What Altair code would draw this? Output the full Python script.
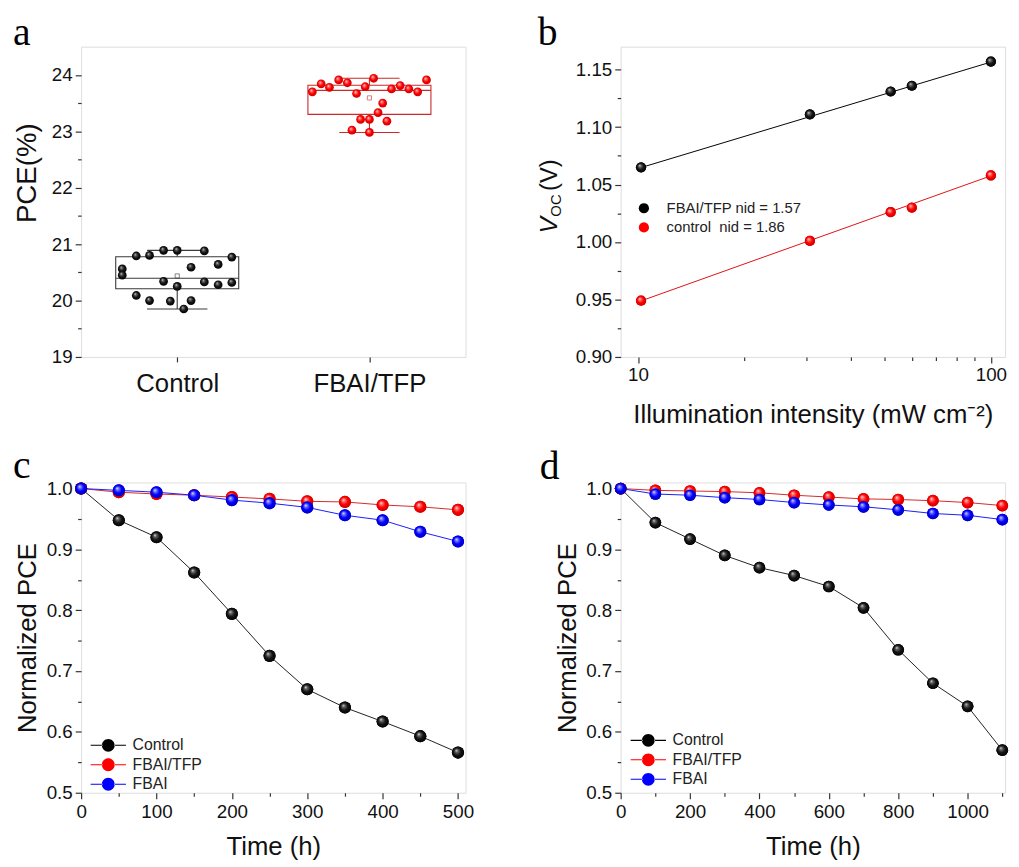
import altair as alt
import pandas as pd

FONT = "Liberation Sans"
SERIF = "Liberation Serif"

# ---------------- data ----------------
# panel a
a_cats = ["Control", "FBAI/TFP"]
a_control_pce = [20.79, 20.80, 20.89, 20.89, 20.88, 20.77, 20.56, 20.45, 20.59, 20.64,
                 20.34, 20.25, 20.33, 20.28, 20.32, 20.09, 20.00, 19.99, 20.00, 19.85]
a_control_jit = [-0.213, -0.144, -0.071, 0.0, 0.141, 0.284, -0.286, -0.286, 0.072, 0.213,
                 -0.071, 0.0, 0.141, 0.213, 0.284, -0.213, -0.144, -0.036, 0.072, 0.034]
a_fbai_pce = [23.70, 23.84, 23.78, 23.91, 23.86, 23.67, 23.79, 23.94, 23.75, 23.81,
              23.75, 23.70, 23.91, 23.50, 23.33, 23.21, 23.21, 23.18, 23.02, 22.98]
a_fbai_jit = [-0.297, -0.251, -0.208, -0.160, -0.115, -0.067, -0.022, 0.022, 0.115, 0.160,
              0.205, 0.251, 0.297, 0.069, 0.045, -0.046, 0.0, 0.091, -0.091, 0.0]

# panel b
b_series = ["FBAI/TFP nid = 1.57", "control\u00a0 nid = 1.86"]
b_intensity = [10.2, 30.7, 52.0, 59.7, 100.0]
b_voc_fbai = [1.065, 1.111, 1.131, 1.136, 1.157]
b_voc_control = [0.949, 1.001, 1.026, 1.030, 1.058]
b_fit_x = [10.2, 100.0]
b_fit_fbai = [1.0648, 1.1566]
b_fit_control = [0.9488, 1.0576]

# panel c
series_names = ["Control", "FBAI/TFP", "FBAI"]
c_time = [0, 50, 100, 150, 200, 250, 300, 350, 400, 450, 500]
c_control = [1.0, 0.948, 0.920, 0.862, 0.794, 0.725, 0.670, 0.640, 0.617, 0.593, 0.566]
c_fbai_tfp = [1.0, 0.994, 0.991, 0.989, 0.986, 0.983, 0.979, 0.978, 0.973, 0.970, 0.965]
c_fbai = [1.0, 0.997, 0.994, 0.989, 0.981, 0.976, 0.969, 0.956, 0.948, 0.929, 0.913]

# panel d
d_time = [0, 100, 200, 300, 400, 500, 600, 700, 800, 900, 1000, 1100]
d_control = [1.0, 0.944, 0.917, 0.890, 0.870, 0.857, 0.839, 0.804, 0.735, 0.680, 0.642, 0.570]
d_fbai_tfp = [1.0, 0.997, 0.996, 0.995, 0.993, 0.989, 0.986, 0.983, 0.982, 0.980, 0.977, 0.972]
d_fbai = [1.0, 0.991, 0.989, 0.985, 0.982, 0.977, 0.973, 0.970, 0.965, 0.959, 0.956, 0.949]

# ---------------- styling helpers ----------------
W, H = 389, 314
AXC = "#333333"
TXT = "#111111"


def ball(hi, mid, main, dark):
    return alt.RadialGradient(
        gradient="radial", x1=0.36, y1=0.32, r1=0.0, x2=0.5, y2=0.5, r2=0.55,
        stops=[alt.GradientStop(color=hi, offset=0.0),
               alt.GradientStop(color=mid, offset=0.2),
               alt.GradientStop(color=main, offset=0.55),
               alt.GradientStop(color=dark, offset=1.0)])


BALL = {
    "black": ball("#f4f4f4", "#6a6a6a", "#151515", "#000000"),
    "red": ball("#fff0f0", "#ff7a7a", "#ff0000", "#c40000"),
    "blue": ball("#f0f0ff", "#7a7aff", "#0000ff", "#0000b4"),
}
SOLID = {"black": "#000000", "red": "#ff0000", "blue": "#0000ff"}
LINE = {"black": "#222222", "red": "#d42a2a", "blue": "#1a1aff"}


def letter(ch, dx, dy):
    return alt.Chart(pd.DataFrame({"t": [ch]})).mark_text(
        font=SERIF, fontSize=40, align="left", baseline="alphabetic", color="#000"
    ).encode(text="t:N", x=alt.value(dx), y=alt.value(dy))


def text_piece(txt, size, dx, dy, align="left", style="normal"):
    return alt.Chart(pd.DataFrame({"t": [txt]})).mark_text(
        font=FONT, fontSize=size, fontStyle=style, angle=270, align=align,
        baseline="alphabetic", color=TXT).encode(text="t:N", x=alt.value(dx), y=alt.value(dy))


def major_axis(values, fmt=None, title=None, **kw):
    args = dict(values=values, tickSize=6, tickWidth=1.2, tickColor=AXC, labelPadding=3,
                domain=False, grid=False, labelFont=FONT, labelFontSize=19, labelColor=TXT,
                labelFlush=False, labelOverlap=False,
                titleFont=FONT, titleFontSize=26, titleFontWeight="normal", titleColor=TXT)
    if fmt is not None:
        args["format"] = fmt
    args["title"] = title
    args.update(kw)
    return alt.Axis(**args)


def minor_axis(values, orient):
    return alt.Axis(values=values, tickSize=3.5, tickWidth=1.2, tickColor=AXC, labels=False,
                    domain=False, grid=False, title=None, orient=orient)


LEG_PATH = ("M-1,0A1,1,0,1,0,1,0A1,1,0,1,0,-1,0Z"
            "M-2.75,-0.08H-0.9V0.08H-2.75Z"
            "M0.9,-0.08H2.75V0.08H0.9Z")

# ---------------- panel a ----------------
a_df = pd.DataFrame({
    "cat": [a_cats[0]] * len(a_control_pce) + [a_cats[1]] * len(a_fbai_pce),
    "idx": [0] * len(a_control_pce) + [1] * len(a_fbai_pce),
    "pce": a_control_pce + a_fbai_pce,
    "jit": a_control_jit + a_fbai_jit,
})
ax_scale = alt.Scale(domain=[0, 2], nice=False, zero=False)
ay_scale = alt.Scale(domain=[19, 24.5], nice=False, zero=False)
a_box_colors = alt.Scale(domain=a_cats, range=["#3a3a3a", "#cc2a2a"])
a_base = alt.Chart(a_df).transform_calculate(pos="datum.idx + 0.5", xpos="datum.idx + 0.5 + datum.jit")
label_expr = f"datum.value < 1 ? '{a_cats[0]}' : '{a_cats[1]}'"

a_axes = a_base.mark_point(opacity=0).encode(
    x=alt.X("xpos:Q", scale=ax_scale,
            axis=major_axis([0.5, 1.5], labelExpr=label_expr, tickSize=5, labelFontSize=26,
                            labelPadding=9)),
    y=alt.Y("pce:Q", scale=ay_scale, axis=major_axis([19, 20, 21, 22, 23, 24], "d")),
)
a_minor = a_base.mark_point(opacity=0).encode(
    y=alt.Y("pce:Q", scale=ay_scale, axis=minor_axis([19.5, 20.5, 21.5, 22.5, 23.5], "left")),
    x=alt.X("xpos:Q", scale=ax_scale, axis=None),
)
stats = a_base.transform_aggregate(
    q1="q1(pce)", q3="q3(pce)", med="median(pce)", mn="min(pce)", mx="max(pce)", avg="mean(pce)",
    groupby=["cat", "idx"],
).transform_calculate(
    pos="datum.idx + 0.5", xl="datum.idx + 0.5 - 0.32", xr="datum.idx + 0.5 + 0.32",
    wl="datum.idx + 0.5 - 0.157", wr="datum.idx + 0.5 + 0.157",
)
col = alt.Color("cat:N", scale=a_box_colors, legend=None)
noX = dict(scale=ax_scale, axis=None)
noY = dict(scale=ay_scale, axis=None)
a_box = stats.mark_rect(filled=False, strokeWidth=1.1).encode(
    x=alt.X("xl:Q", **noX), x2="xr:Q", y=alt.Y("q1:Q", **noY), y2="q3:Q", stroke=col)
a_med = stats.mark_rule(strokeWidth=1.1).encode(
    x=alt.X("xl:Q", **noX), x2="xr:Q", y=alt.Y("med:Q", **noY), color=col)
a_wlo = stats.mark_rule(strokeWidth=1.1).encode(
    x=alt.X("pos:Q", **noX), y=alt.Y("mn:Q", **noY), y2="q1:Q", color=col)
a_whi = stats.mark_rule(strokeWidth=1.1).encode(
    x=alt.X("pos:Q", **noX), y=alt.Y("q3:Q", **noY), y2="mx:Q", color=col)
a_cmin = stats.mark_rule(strokeWidth=1.1).encode(
    x=alt.X("wl:Q", **noX), x2="wr:Q", y=alt.Y("mn:Q", **noY), color=col)
a_cmax = stats.mark_rule(strokeWidth=1.1).encode(
    x=alt.X("wl:Q", **noX), x2="wr:Q", y=alt.Y("mx:Q", **noY), color=col)
a_mean = stats.mark_point(shape="square", size=18, filled=False, strokeWidth=0.9).encode(
    x=alt.X("pos:Q", **noX), y=alt.Y("avg:Q", **noY), color=col)
a_balls = []
for cat, key in zip(a_cats, ["black", "red"]):
    a_balls.append(a_base.transform_filter(alt.datum.cat == cat).mark_circle(
        size=78, opacity=1, fill=BALL[key]).encode(x=alt.X("xpos:Q", **noX), y=alt.Y("pce:Q", **noY)))
a_title = text_piece("PCE(%)", 28, -46, 128, align="center")

panel_a = alt.layer(a_axes, a_minor, a_box, a_med, a_wlo, a_whi, a_cmin, a_cmax, a_mean,
                    *a_balls, a_title, letter("a", -69, -2)).resolve_axis(
    x="independent", y="independent").properties(width=W, height=H)

# ---------------- panel b ----------------
b_df = pd.DataFrame({
    "I": b_intensity * 2,
    "V": b_voc_fbai + b_voc_control,
    "s": [b_series[0]] * len(b_intensity) + [b_series[1]] * len(b_intensity),
})
b_fit = pd.DataFrame({
    "I": b_fit_x * 2,
    "V": b_fit_fbai + b_fit_control,
    "s": [b_series[0]] * 2 + [b_series[1]] * 2,
})
bx_scale = alt.Scale(type="log", domain=[8.93, 109.7], nice=False)
by_scale = alt.Scale(domain=[0.90, 1.17], nice=False, zero=False)
bnoX = dict(scale=bx_scale, axis=None)
bnoY = dict(scale=by_scale, axis=None)
b_axes = alt.Chart(b_df).mark_point(opacity=0).encode(
    x=alt.X("I:Q", scale=bx_scale,
            axis=major_axis([10, 100], "d", "Illumination intensity (mW cm\u207b\u00b2)",
                            titleY=66, titleBaseline="alphabetic")),
    y=alt.Y("V:Q", scale=by_scale,
            axis=major_axis([0.90, 0.95, 1.00, 1.05, 1.10, 1.15], ".2f")),
)
b_minor = alt.Chart(b_df).mark_point(opacity=0).encode(
    x=alt.X("I:Q", scale=bx_scale, axis=minor_axis([20, 30, 40, 50, 60, 70, 80, 90], "bottom")),
    y=alt.Y("V:Q", scale=by_scale, axis=minor_axis([0.925, 0.975, 1.025, 1.075, 1.125], "left")),
)
b_lines = []
for s, key in zip(b_series, ["black", "red"]):
    b_lines.append(alt.Chart(b_fit).transform_filter(alt.datum.s == s).mark_line(
        strokeWidth=1, color="#000000" if key == "black" else "#e01010").encode(
        x=alt.X("I:Q", **bnoX), y=alt.Y("V:Q", **bnoY)))
b_legpts = alt.Chart(b_df).mark_circle(size=107, opacity=1).encode(
    x=alt.X("I:Q", **bnoX), y=alt.Y("V:Q", **bnoY),
    color=alt.Color("s:N", scale=alt.Scale(domain=b_series, range=[SOLID["black"], SOLID["red"]]),
                    legend=alt.Legend(orient="none", legendX=16, legendY=156, title=None,
                                      symbolType="circle", symbolSize=107, symbolStrokeWidth=0,
                                      labelFont=FONT, labelFontSize=15, labelColor="#222",
                                      labelOffset=15.5, rowPadding=3.4, padding=0)))
b_balls = []
for s, key in zip(b_series, ["black", "red"]):
    b_balls.append(alt.Chart(b_df).transform_filter(alt.datum.s == s).mark_circle(
        size=107, opacity=1, fill=BALL[key]).encode(x=alt.X("I:Q", **bnoX), y=alt.Y("V:Q", **bnoY)))

b_t1 = text_piece("V", 25, -64, 189, style="italic")
b_t2 = text_piece("OC", 15, -60, 172)
b_t3 = text_piece("(V)", 24, -64, 146)

panel_b = alt.layer(b_axes, b_minor, *b_lines, b_legpts, *b_balls, b_t1, b_t2, b_t3,
                    letter("b", -84, -2)).resolve_axis(
    x="independent", y="independent").properties(width=W, height=H)


# ---------------- panels c, d ----------------
def time_panel(times, control, tfp, fbai, xmax, xmajor, xminor, leg_x, leg_y, ch, lx, ly, ball_size):
    df = pd.DataFrame({
        "t": times * 3,
        "v": control + tfp + fbai,
        "s": [series_names[0]] * len(times) + [series_names[1]] * len(times) + [series_names[2]] * len(times),
    })
    xs = alt.Scale(domain=[0, xmax], nice=False, zero=False)
    ys = alt.Scale(domain=[0.5, 1.01], nice=False, zero=False)
    nX = dict(scale=xs, axis=None)
    nY = dict(scale=ys, axis=None)
    base = alt.Chart(df)
    axes = base.mark_point(opacity=0).encode(
        x=alt.X("t:Q", scale=xs, axis=major_axis(xmajor, "d", "Time (h)", titleY=63,
                                                  titleBaseline="alphabetic", labelPadding=4)),
        y=alt.Y("v:Q", scale=ys, axis=major_axis([0.5, 0.6, 0.7, 0.8, 0.9, 1.0], ".1f",
                                                  "Normalized PCE", titleX=-46,
                                                  titleBaseline="alphabetic")),
    )
    minor = base.mark_point(opacity=0).encode(
        x=alt.X("t:Q", scale=xs, axis=minor_axis(xminor, "bottom")),
        y=alt.Y("v:Q", scale=ys, axis=minor_axis([0.55, 0.65, 0.75, 0.85, 0.95], "left")),
    )
    keys = ["black", "red", "blue"]
    lines = []
    for s, key in zip(series_names, keys):
        lines.append(base.transform_filter(alt.datum.s == s).mark_line(
            strokeWidth=1, color=LINE[key]).encode(x=alt.X("t:Q", **nX), y=alt.Y("v:Q", **nY)))
    legpts = base.mark_circle(size=ball_size, opacity=1).encode(
        x=alt.X("t:Q", **nX), y=alt.Y("v:Q", **nY),
        color=alt.Color("s:N", scale=alt.Scale(domain=series_names,
                                               range=[SOLID["black"], SOLID["red"], SOLID["blue"]]),
                        legend=alt.Legend(orient="none", legendX=leg_x, legendY=leg_y, title=None,
                                          symbolType=LEG_PATH, symbolSize=169, symbolStrokeWidth=0,
                                          labelFont=FONT, labelFontSize=16, labelColor="#222",
                                          labelOffset=16.5, rowPadding=3.7, padding=0)))
    balls = []
    for s, key in zip(series_names, keys):
        balls.append(base.transform_filter(alt.datum.s == s).mark_circle(
            size=ball_size, opacity=1, fill=BALL[key]).encode(
            x=alt.X("t:Q", **nX), y=alt.Y("v:Q", **nY)))
    return alt.layer(axes, minor, *lines, legpts, *balls, letter(ch, lx, ly)).resolve_axis(
        x="independent", y="independent").properties(width=W, height=H)


panel_c = time_panel(c_time, c_control, c_fbai_tfp, c_fbai, 510,
                     [0, 100, 200, 300, 400, 500], [50, 150, 250, 350, 450],
                     19.5, 258, "c", -69, -5, 150)
panel_d = time_panel(d_time, d_control, d_fbai_tfp, d_fbai, 1108,
                     [0, 200, 400, 600, 800, 1000], [100, 300, 500, 700, 900, 1100],
                     20, 253, "d", -82, -4, 140)

chart = alt.concat(panel_a, panel_b, panel_c, panel_d, columns=2,
                   spacing={"row": 127, "column": 157}, bounds="flush").resolve_scale(
    color="independent").resolve_legend(color="independent").properties(
    padding={"left": 4, "top": -1, "right": 2, "bottom": 0}
).configure_view(stroke=AXC, strokeWidth=1.2).configure(background="white")

chart.save("out.html", embed_options={"renderer": "svg", "actions": False})
